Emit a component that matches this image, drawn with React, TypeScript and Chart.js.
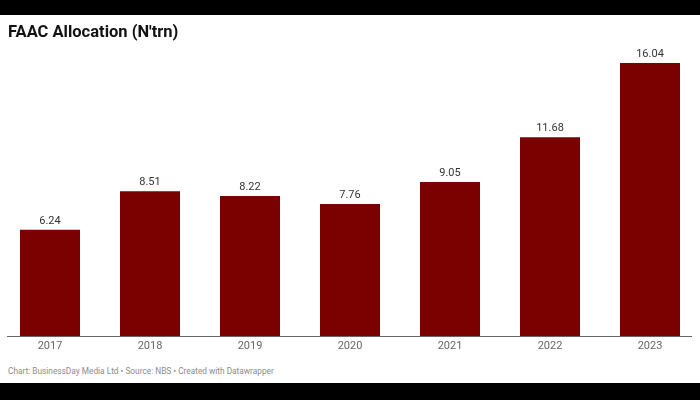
import React, { useEffect, useRef } from "react";
import { Chart, registerables } from "chart.js";

Chart.register(...registerables);

const years = ["2017", "2018", "2019", "2020", "2021", "2022", "2023"];
const allocation = [6.24, 8.51, 8.22, 7.76, 9.05, 11.68, 16.04];
const valueLabels = ["6.24", "8.51", "8.22", "7.76", "9.05", "11.68", "16.04"];

const FONT = "Roboto, 'Noto Sans', Arial, sans-serif";

export default function App() {
  const ref = useRef<HTMLCanvasElement | null>(null);

  useEffect(() => {
    if (!ref.current) return;
    const labelPlugin = {
      id: "labels",
      afterDatasetsDraw(chart: any) {
        const ctx = chart.ctx;
        const meta = chart.getDatasetMeta(0);
        ctx.save();
        ctx.font = `11px ${FONT}`;
        ctx.fillStyle = "#333333";
        ctx.textAlign = "center";
        ctx.textBaseline = "middle";
        meta.data.forEach((bar: any, i: number) => {
          ctx.fillText(valueLabels[i], bar.x, bar.y - 9);
        });
        const yb = chart.chartArea.bottom;
        ctx.strokeStyle = "#666666";
        ctx.lineWidth = 1;
        ctx.beginPath();
        ctx.moveTo(7, yb + 0.5);
        ctx.lineTo(692, yb + 0.5);
        ctx.stroke();
        ctx.restore();
      },
    };
    const chart = new Chart(ref.current, {
      type: "bar",
      data: {
        labels: years,
        datasets: [
          {
            data: allocation,
            backgroundColor: "#7b0000",
            borderWidth: 0,
            categoryPercentage: 1,
            barPercentage: 0.6,
          },
        ],
      },
      options: {
        responsive: false,
        animation: false,
        devicePixelRatio: 1,
        layout: { padding: { top: 50, left: 0, right: 0, bottom: 0 } },
        plugins: {
          legend: { display: false },
          title: { display: false },
          tooltip: { enabled: false },
        },
        scales: {
          y: { display: false, min: 0, max: 16.8 },
          x: {
            grid: { display: false, drawTicks: false },
            border: { display: false },
            ticks: {
              color: "#666666",
              font: { family: FONT, size: 11 },
              padding: 4,
            },
            afterFit: (scale: any) => {
              scale.height = 24;
            },
          },
        },
      },
      plugins: [labelPlugin],
    });
    return () => chart.destroy();
  }, []);

  return (
    <div style={{ position: "fixed", left: 0, top: 0, width: 700, height: 400, background: "#000" }}>
      <div style={{ position: "absolute", left: 0, top: 15, width: 700, height: 368, background: "#fff" }} />
      <canvas
        ref={ref}
        width={700}
        height={360}
        style={{ position: "absolute", left: 0, top: 0, width: 700, height: 360 }}
      />
      <div
        style={{
          position: "absolute",
          left: 8,
          top: 21,
          fontFamily: FONT,
          fontWeight: 700,
          fontSize: 16.5,
          color: "#111",
          lineHeight: "22px",
          whiteSpace: "nowrap",
        }}
      >
        FAAC Allocation (N'trn)
      </div>
      <div
        style={{
          position: "absolute",
          left: 8,
          top: 364,
          fontFamily: FONT,
          fontSize: 8.3,
          color: "#8c8c8c",
          lineHeight: "14px",
          whiteSpace: "nowrap",
        }}
      >
        Chart: BusinessDay Media Ltd • Source: NBS • Created with Datawrapper
      </div>
    </div>
  );
}
